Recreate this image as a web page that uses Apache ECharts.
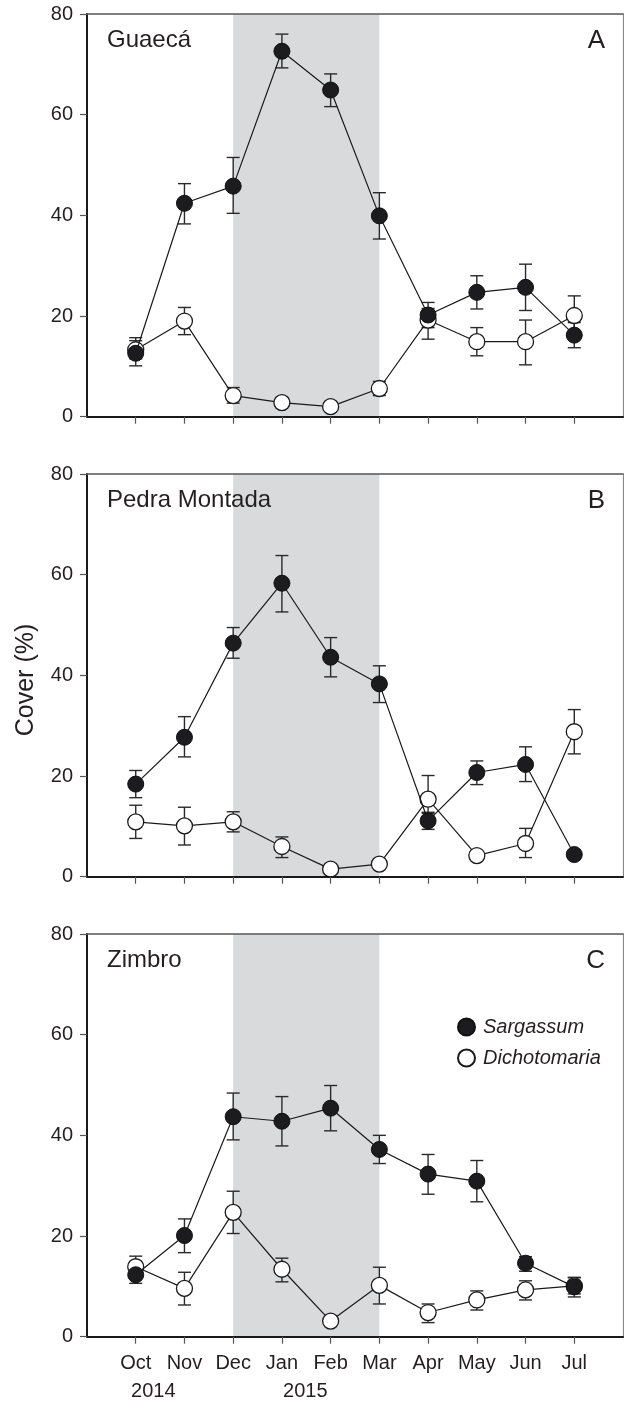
<!DOCTYPE html>
<html>
<head>
<meta charset="utf-8">
<script src="https://cdn.jsdelivr.net/npm/echarts@6/dist/echarts.min.js"></script>
<style>
html,body{margin:0;padding:0;background:#fff;}
#chart{width:624px;height:1402px;}
</style>
</head>
<body>
<div id="chart"></div>
<script>
// ---- Data ----
const months = ['Oct','Nov','Dec','Jan','Feb','Mar','Apr','May','Jun','Jul'];
const yearLabels = ['2014','2015'];
const yearPos = [0.36, 3.48];
const yTicks = [0, 20, 40, 60, 80];
const panelNames = ['Guaecá','Pedra Montada','Zimbro'];
const panelLetters = ['A','B','C'];
const seriesNames = ['Sargassum','Dichotomaria'];
const summerStart = 2; // Dec
const summerEnd = 5;   // Mar

// Panel A (Guaecá)
const sargA    = [12.6, 42.4, 45.8, 72.6, 64.9, 39.9, 20.2, 24.7, 25.7, 16.2];
const sargA_lo = [10.1, 38.3, 40.4, 69.3, 61.6, 35.3, 17.7, 21.4, 21.1, 13.7];
const sargA_hi = [15.7, 46.3, 51.5, 76.0, 68.1, 44.5, 22.7, 28.0, 30.3, 18.7];
const dichA    = [13.3, 19.0, 4.2, 2.8, 2.0, 5.6, 19.2, 14.9, 14.9, 20.1];
const dichA_lo = [11.5, 16.3, 2.7, 1.8, 1.2, 4.2, 15.4, 12.1, 10.3, 16.2];
const dichA_hi = [15.1, 21.7, 5.8, 3.8, 2.8, 7.0, 21.5, 17.7, 19.2, 24.0];

// Panel B (Pedra Montada)
const sargB    = [18.4, 27.7, 46.4, 58.3, 43.6, 38.3, 11.1, 20.7, 22.3, 4.4];
const sargB_lo = [15.7, 23.8, 43.4, 52.6, 39.7, 34.6, 9.4, 18.3, 18.9, 3.6];
const sargB_hi = [21.1, 31.8, 49.5, 63.8, 47.5, 41.9, 12.8, 23.0, 25.8, 5.2];
const dichB    = [10.9, 10.1, 10.9, 6.0, 1.5, 2.5, 15.4, 4.2, 6.6, 28.8];
const dichB_lo = [7.6, 6.3, 8.9, 3.8, 1.0, 1.8, 12.6, 3.5, 3.8, 24.4];
const dichB_hi = [14.2, 13.8, 12.9, 7.9, 2.0, 3.2, 20.1, 4.9, 9.6, 33.2];

// Panel C (Zimbro)
const sargC    = [12.3, 20.1, 43.7, 42.8, 45.4, 37.2, 32.3, 30.9, 14.6, 9.9];
const sargC_lo = [10.6, 16.7, 39.1, 37.9, 40.9, 34.4, 28.3, 26.8, 13.0, 7.9];
const sargC_hi = [14.0, 23.4, 48.4, 47.7, 49.9, 40.0, 36.2, 35.0, 15.9, 11.8];
const dichC    = [13.9, 9.6, 24.7, 13.4, 3.1, 10.2, 4.8, 7.3, 9.3, 10.1];
const dichC_lo = [12.0, 6.3, 20.5, 10.9, 2.5, 6.5, 2.8, 5.3, 7.3, 8.5];
const dichC_hi = [16.0, 12.8, 28.9, 15.6, 3.7, 13.8, 6.5, 9.1, 11.1, 11.7];

const panels = [
  {sarg: sargA, sargLo: sargA_lo, sargHi: sargA_hi, dich: dichA, dichLo: dichA_lo, dichHi: dichA_hi},
  {sarg: sargB, sargLo: sargB_lo, sargHi: sargB_hi, dich: dichB, dichLo: dichB_lo, dichHi: dichB_hi},
  {sarg: sargC, sargLo: sargC_lo, sargHi: sargC_hi, dich: dichC, dichLo: dichC_lo, dichHi: dichC_hi}
];

// ---- Layout / style ----
const FONT = "'Liberation Sans', Arial, Helvetica, sans-serif";
const TXT = '#231f20';
const GRID_LEFT = 87, GRID_W = 536, GRID_H = 402.7;
const GRID_TOPS = [14, 474, 934];
const monthIdx = months.map((m, i) => i);

const chart = echarts.init(document.getElementById('chart'), null, {renderer: 'canvas'});

const grid = [], xAxis = [], yAxis = [], series = [], graphic = [];

function errRender(params, api) {
  const x = api.value(0);
  const lo = api.coord([x, api.value(1)]);
  const hi = api.coord([x, api.value(2)]);
  const cw = 6.5;
  const st = {stroke: '#2a2a2a', lineWidth: 1.4};
  return {
    type: 'group',
    children: [
      {type: 'line', shape: {x1: lo[0], y1: lo[1], x2: hi[0], y2: hi[1]}, style: st},
      {type: 'line', shape: {x1: lo[0] - cw, y1: lo[1], x2: lo[0] + cw, y2: lo[1]}, style: st},
      {type: 'line', shape: {x1: hi[0] - cw, y1: hi[1], x2: hi[0] + cw, y2: hi[1]}, style: st}
    ]
  };
}

panels.forEach((p, i) => {
  const top = GRID_TOPS[i];
  const isLast = i === panels.length - 1;
  grid.push({left: GRID_LEFT, top: top, width: GRID_W, height: GRID_H, containLabel: false});

  // main bottom x axis
  xAxis.push({
    type: 'value', gridIndex: i, min: -1, max: 10, interval: 1, z: 10,
    axisLine: {show: true, onZero: false, lineStyle: {color: '#1a1a1a', width: 2}},
    axisTick: {show: true, customValues: monthIdx, length: 7, inside: false, lineStyle: {color: '#555', width: 1.2}},
    axisLabel: {show: isLast, customValues: monthIdx, margin: 17, color: TXT, fontSize: 20, fontFamily: FONT,
      formatter: v => months[Math.round(v)] || ''},
    splitLine: {show: false}
  });
  // top frame
  xAxis.push({
    type: 'value', gridIndex: i, min: -1, max: 10, position: 'top', z: 10,
    axisLine: {show: true, onZero: false, lineStyle: {color: '#555', width: 1.5}},
    axisTick: {show: false}, axisLabel: {show: false}, splitLine: {show: false}
  });
  yAxis.push({
    type: 'value', gridIndex: i, min: 0, max: 80, interval: 20, z: 10,
    axisLine: {show: true, onZero: false, lineStyle: {color: '#1a1a1a', width: 2}},
    axisTick: {show: true, length: 7, lineStyle: {color: '#555', width: 1.2}},
    axisLabel: {margin: 14, color: TXT, fontSize: 20, fontFamily: FONT},
    splitLine: {show: false}
  });
  // right frame
  yAxis.push({
    type: 'value', gridIndex: i, min: 0, max: 80, position: 'right', z: 10,
    axisLine: {show: true, onZero: false, lineStyle: {color: '#888', width: 1.2}},
    axisTick: {show: false}, axisLabel: {show: false}, splitLine: {show: false}
  });

  const xi = i * 2, yi = i * 2;

  // shading (summer)
  series.push({
    type: 'line', name: 'shade' + i, xAxisIndex: xi, yAxisIndex: yi, data: [], z: 1,
    silent: true, legendHoverLink: false,
    markArea: {silent: true, itemStyle: {color: '#d9dadc'}, data: [[{xAxis: summerStart}, {xAxis: summerEnd}]]}
  });

  // error bars
  const errD = months.map((m, k) => [k, p.dichLo[k], p.dichHi[k]]);
  const errS = months.map((m, k) => [k, p.sargLo[k], p.sargHi[k]]);
  series.push({type: 'custom', name: 'errD' + i, xAxisIndex: xi, yAxisIndex: yi, z: 3, silent: true,
    renderItem: errRender, data: errD});
  series.push({type: 'custom', name: 'errS' + i, xAxisIndex: xi, yAxisIndex: yi, z: 3, silent: true,
    renderItem: errRender, data: errS});

  // lines
  series.push({
    type: 'line', name: seriesNames[1], xAxisIndex: xi, yAxisIndex: yi, z: 4,
    data: months.map((m, k) => [k, p.dich[k]]),
    symbol: 'circle', symbolSize: 16, showAllSymbol: true,
    lineStyle: {color: '#1a1a1a', width: 1.2},
    itemStyle: {color: '#ffffff', borderColor: '#1a1a1a', borderWidth: 1.3, opacity: 1},
    emphasis: {disabled: true}
  });
  series.push({
    type: 'line', name: seriesNames[0], xAxisIndex: xi, yAxisIndex: yi, z: 5,
    data: months.map((m, k) => [k, p.sarg[k]]),
    symbol: 'circle', symbolSize: 16, showAllSymbol: true,
    lineStyle: {color: '#1a1a1a', width: 1.2},
    itemStyle: {color: '#1c1c1e', borderColor: '#111', borderWidth: 1, opacity: 1},
    emphasis: {disabled: true}
  });

  // panel name and letter
  graphic.push({type: 'text', left: 107, top: top + 14, z: 20,
    style: {text: panelNames[i], font: '24px ' + FONT, fill: TXT}});
  graphic.push({type: 'text', right: 19, top: top + 14, z: 20,
    style: {text: panelLetters[i], font: '26px ' + FONT, fill: TXT}});
});

// year labels axis for last panel
xAxis.push({
  type: 'value', gridIndex: 2, min: -1, max: 10, position: 'bottom', z: 10,
  axisLine: {show: false}, axisTick: {show: false}, splitLine: {show: false},
  axisLabel: {show: true, customValues: yearPos, margin: 45, color: TXT, fontSize: 20, fontFamily: FONT,
    formatter: v => (v < 2 ? yearLabels[0] : yearLabels[1])}
});

// y axis title
graphic.push({type: 'text', x: 26, y: 680, rotation: Math.PI / 2, z: 20,
  style: {text: 'Cover (%)', font: '25px ' + FONT, fill: TXT, align: 'center', verticalAlign: 'middle'}});

const option = {
  animation: false,
  backgroundColor: '#ffffff',
  grid: grid,
  xAxis: xAxis,
  yAxis: yAxis,
  series: series,
  graphic: graphic,
  legend: {
    show: true, orient: 'vertical', left: 452, top: 1012,
    itemWidth: 17, itemHeight: 17, itemGap: 11, icon: 'circle',
    selectedMode: false,
    data: seriesNames.map(n => ({name: n})),
    textStyle: {fontSize: 20, fontStyle: 'italic', fontFamily: FONT, color: TXT, padding: [0, 0, 0, 3]}
  }
};
chart.setOption(option);
</script>
</body>
</html>
